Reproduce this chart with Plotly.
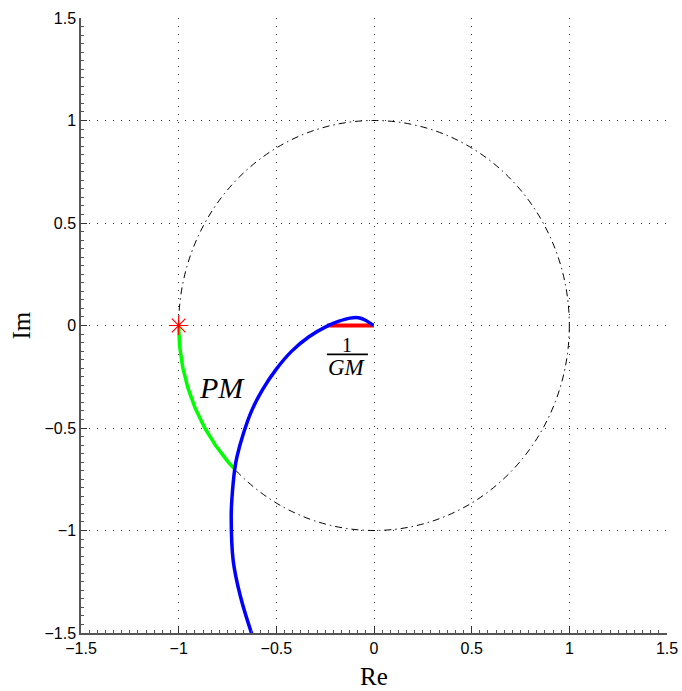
import numpy as np
import plotly.graph_objects as go

# Nyquist locus of the open-loop transfer function (Re, Im)
nyq_re = [-0.004, -0.046, -0.080, -0.123, -0.183, -0.240, -0.333, -0.421, -0.502,
          -0.572, -0.626, -0.669, -0.702, -0.713, -0.728, -0.731, -0.721, -0.685, -0.626]
nyq_im = [0.000, 0.027, 0.038, 0.036, 0.020, -0.003, -0.055, -0.125, -0.215,
          -0.315, -0.415, -0.528, -0.642, -0.701, -0.854, -0.935, -1.146, -1.317, -1.504]

# Margins read from the locus
gm_inv = 0.24          # distance of the real-axis crossing from the origin, 1/GM
pm_deg = 44.5          # phase margin in degrees

crit_point = (-1.0, 0.0)
tick_vals = [-1.5, -1, -0.5, 0, 0.5, 1, 1.5]
tick_text = ["\u22121.5", "\u22121", "\u22120.5", "0", "0.5", "1", "1.5"]

fig = go.Figure()

# phase-margin arc on the unit circle, from -180 deg to -180 + PM
theta = np.radians(np.linspace(180.0, 180.0 + pm_deg, 60))
fig.add_trace(go.Scatter(x=np.cos(theta), y=np.sin(theta), mode="lines",
                         line=dict(color="rgb(0,255,0)", width=3.5), hoverinfo="skip"))

# gain-margin segment on the real axis
fig.add_trace(go.Scatter(x=[-gm_inv, 0.0], y=[0.0, 0.0], mode="lines",
                         line=dict(color="rgb(255,0,0)", width=3.8), hoverinfo="skip"))

# Nyquist curve
fig.add_trace(go.Scatter(x=nyq_re, y=nyq_im, mode="lines",
                         line=dict(color="rgb(0,0,255)", width=3.5, shape="spline", smoothing=1.1),
                         hoverinfo="skip"))

# critical point -1
fig.add_trace(go.Scatter(x=[crit_point[0]], y=[crit_point[1]], mode="markers",
                         marker=dict(symbol="asterisk-open", size=16, color="rgb(255,0,0)",
                                     line=dict(color="rgb(255,0,0)", width=1.2)),
                         hoverinfo="skip"))

# unit circle
fig.add_shape(type="circle", xref="x", yref="y", x0=-1, y0=-1, x1=1, y1=1,
              line=dict(color="black", width=1, dash="7px,4px,1.5px,4px"), layer="below")

# 1/GM label as a stacked fraction
serif = "Liberation Serif, DejaVu Serif, serif"
fig.add_annotation(x=-0.138, y=-0.093, xref="x", yref="y", text="1", showarrow=False,
                   font=dict(family=serif, size=20, color="black"))
fig.add_shape(type="line", xref="x", yref="y", x0=-0.241, x1=-0.031, y0=-0.141, y1=-0.141,
              line=dict(color="black", width=1.6))
fig.add_annotation(x=-0.138, y=-0.207, xref="x", yref="y", text="<i>GM</i>", showarrow=False,
                   font=dict(family=serif, size=23, color="black"))

# PM label
fig.add_annotation(x=-0.777, y=-0.30, xref="x", yref="y", text="<i>PM</i>", showarrow=False,
                   font=dict(family=serif, size=30, color="black"))

# axis titles
fig.add_annotation(x=0.5, y=-0.0715, xref="paper", yref="paper", text="Re", showarrow=False,
                   yanchor="middle", font=dict(family=serif, size=25, color="black"))
fig.add_annotation(x=-0.1007, y=0.5, xref="paper", yref="paper", text="Im", showarrow=False,
                   textangle=-90, xanchor="center", font=dict(family=serif, size=25, color="black"))

axis_common = dict(
    range=[-1.5, 1.5], tickmode="array", tickvals=tick_vals, ticktext=tick_text,
    showgrid=True, gridcolor="rgba(0,0,0,0.8)", gridwidth=1, griddash="1px,7px",
    zeroline=False, showline=True, linecolor="#555555", linewidth=1.5,
    ticks="inside", ticklen=6, tickcolor="#333333", tickwidth=1,
    minor=dict(tick0=-1.5, dtick=0.5 / 12, ticks="inside", ticklen=3,
               tickcolor="#555555", showgrid=False),
    tickfont=dict(family="Liberation Sans, Arial, sans-serif", size=16, color="black"),
    fixedrange=True, automargin=False,
)

fig.update_layout(
    width=682, height=691,
    margin=dict(l=81, r=15, t=18, b=58, autoexpand=False),
    paper_bgcolor="white", plot_bgcolor="white",
    showlegend=False,
    xaxis=dict(**axis_common),
    yaxis=dict(**axis_common),
)

fig.write_html("out.html")
